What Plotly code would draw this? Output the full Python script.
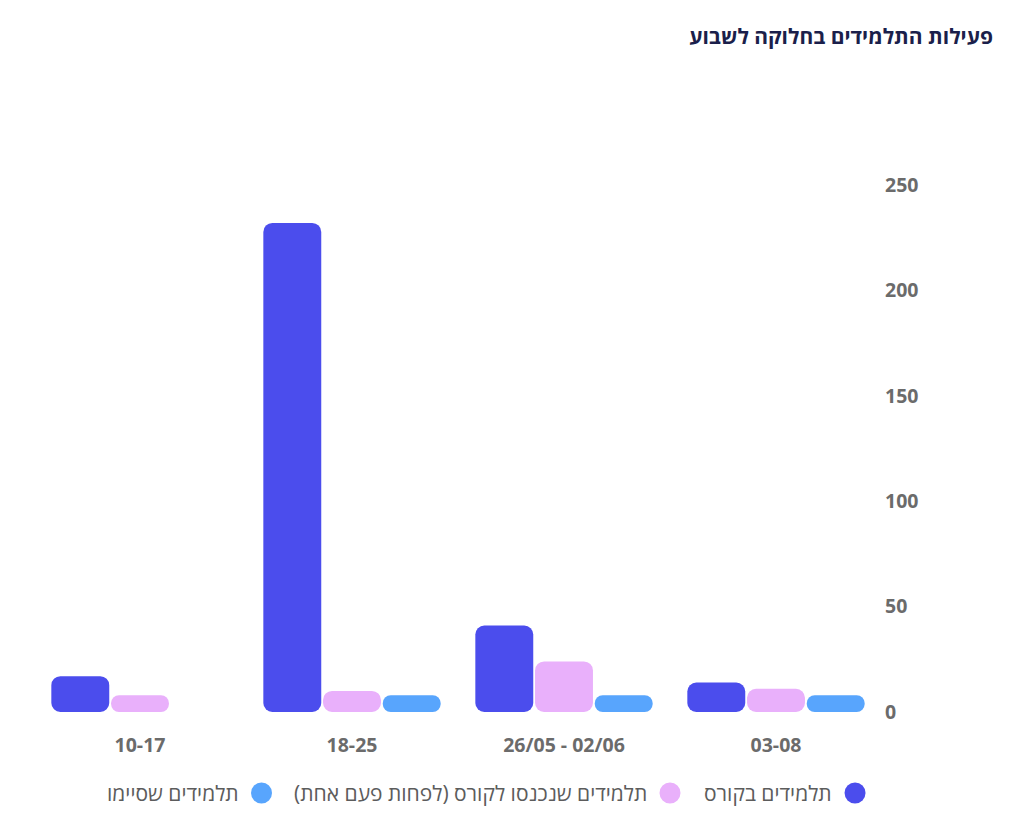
import plotly.graph_objects as go

# week buckets, as laid out left to right in the chart
weeks = ["10-17", "18-25", "26/05 - 02/06", "03-08"]

in_course = [17, 232, 41, 14]
entered = [8, 10, 24, 11]
finished = [0, 8, 8, 8]

series_names = [
    "תלמידים בקורס",
    "תלמידים שנכנסו לקורס (לפחות פעם אחת)",
    "תלמידים שסיימו",
]
series_values = [in_course, entered, finished]
series_colors = ["#4B4DED", "#E9B0FB", "#58A5FD"]

FONT = "Open Sans, Liberation Sans, DejaVu Sans, sans-serif"

fig = go.Figure()

# an explicit base makes plotly round both ends of the bar (pill shape)
for name, vals, color in zip(series_names, series_values, series_colors):
    fig.add_bar(
        x=weeks, y=vals, base=[0] * len(vals), name=name, showlegend=False,
        marker=dict(color=color, line=dict(width=0)),
        hovertemplate="%{x}<br>%{y}<extra>" + name + "</extra>",
    )

# legend drawn by hand, right to left like the original
legend_x = [0.9682, 0.7500, 0.2683]
for name, color, lx in zip(series_names, series_colors, legend_x):
    fig.add_shape(type="circle", xref="paper", yref="paper", xsizemode="pixel", ysizemode="pixel",
                  xanchor=lx, yanchor=-0.1537, x0=-10.5, x1=10.5, y0=-10.5, y1=10.5,
                  fillcolor=color, line=dict(width=0))
    fig.add_annotation(x=lx, y=-0.1537, xref="paper", yref="paper", text=name, showarrow=False,
                       xanchor="right", yanchor="middle", xshift=-21,
                       font=dict(family=FONT, size=21, color="#5c5c5c"))

# page body has an 8px margin, so the figure is sized to fill the rest of the window
fig.update_layout(
    width=1004, height=832,
    margin=dict(l=26, r=130, t=177, b=128),
    paper_bgcolor="white", plot_bgcolor="white",
    barmode="group", bargap=0.155, bargroupgap=0.03, barcornerradius=9,
    title=dict(text="<b>פעילות התלמידים בחלוקה לשבוע</b>", xref="container", x=985 / 1004, xanchor="right",
               yref="container", y=1 - 29 / 832, yanchor="middle",
               font=dict(family=FONT, size=21, color="#1b1f4b")),
    font=dict(family=FONT),
)
fig.update_xaxes(type="category", showgrid=False, zeroline=False, showline=False, ticks="",
                 ticklabelstandoff=19,
                 tickfont=dict(family=FONT, size=19.5, color="#6b6b6b", weight="bold"))
fig.update_yaxes(side="right", range=[0, 250], dtick=50, showgrid=False, zeroline=False,
                 showline=False, ticks="", ticklabelstandoff=2,
                 tickfont=dict(family=FONT, size=19.5, color="#6b6b6b", weight="bold"))

fig.write_html("out.html")
